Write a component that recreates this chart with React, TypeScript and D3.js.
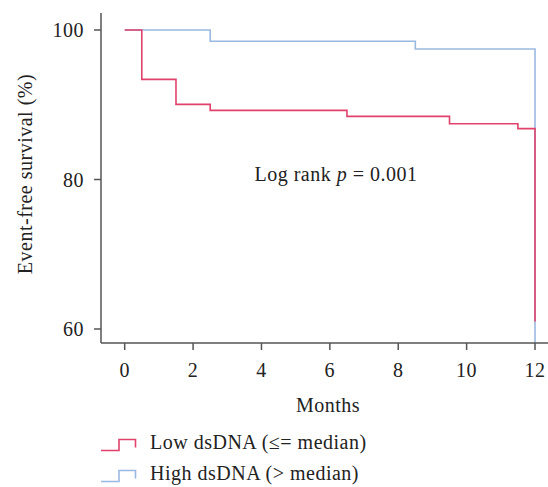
import React from "react";
import * as d3 from "d3";

const lowTimes = [0, 0.5, 1.5, 2.5, 6.5, 9.5, 11.5, 12, 12];
const lowSurv = [100, 93.4, 90.05, 89.25, 88.45, 87.45, 86.8, 61, 61];
const highTimes = [0, 2.5, 8.5, 12, 12];
const highSurv = [100, 98.5, 97.45, 58.1, 58.1];
const xTicks = [0, 2, 4, 6, 8, 10, 12];
const yTicks = [60, 80, 100];
const legendLabels = ["Low dsDNA (\u2264= median)", "High dsDNA (> median)"];
const colors = ["#e0426c", "#9ab9e2"];

const W = 548, H = 487;
const FONT = "'Liberation Serif', 'Times New Roman', serif";
const FS = 20;
const LS = 0.5;

export default function App() {
  const x = d3.scaleLinear().domain([0, 12]).range([124.7, 535]);
  const y = d3.scaleLinear().domain([60, 100]).range([329, 30]);
  const axisLeft = 101, axisBottom = 343, axisTop = 13, axisRight = 548;

  const step = (ts: number[], ss: number[]) =>
    d3.line<number>()
      .x((_, i) => x(ts[i]))
      .y((_, i) => y(ss[i]))
      .curve(d3.curveStepAfter)(ts.map((_, i) => i)) as string;

  const series = [
    { t: lowTimes, s: lowSurv },
    { t: highTimes, s: highSurv },
  ];

  return (
    <svg width={W} height={H} style={{ position: "absolute", left: 0, top: 0 }} fontFamily={FONT} letterSpacing={LS}>
      <rect width={W} height={H} fill="#fff" />
      <path d={step(series[1].t, series[1].s)} fill="none" stroke={colors[1]} strokeWidth={1.6} />
      <path d={step(series[0].t, series[0].s)} fill="none" stroke={colors[0]} strokeWidth={1.6} />
      <line x1={axisLeft} x2={axisLeft} y1={axisTop} y2={axisBottom} stroke="#555" strokeWidth={1.5} />
      <line x1={axisLeft} x2={axisRight} y1={axisBottom} y2={axisBottom} stroke="#555" strokeWidth={1.5} />
      {yTicks.map((v) => (
        <g key={v}>
          <line x1={axisLeft - 7} x2={axisLeft} y1={y(v)} y2={y(v)} stroke="#555" strokeWidth={1.5} />
          <text x={axisLeft - 17} y={y(v)} dy="0.35em" textAnchor="end" fontSize={FS} fill="#222">{v}</text>
        </g>
      ))}
      {xTicks.map((v) => (
        <g key={v}>
          <line x1={x(v)} x2={x(v)} y1={axisBottom} y2={axisBottom + 7} stroke="#555" strokeWidth={1.5} />
          <text x={x(v)} y={377} textAnchor="middle" fontSize={FS} fill="#222">{v}</text>
        </g>
      ))}
      <text x={328} y={412} textAnchor="middle" fontSize={FS} fill="#222">Months</text>
      <text transform={`translate(32,174) rotate(-90)`} textAnchor="middle" fontSize={FS} fill="#222">Event-free survival (%)</text>
      <text x={336} y={181} textAnchor="middle" fontSize={FS} fill="#222">
        Log rank <tspan fontStyle="italic">p</tspan> = 0.001
      </text>
      {legendLabels.map((lab, i) => {
        const top = 439.5 + i * 31;
        const bot = top + 11;
        return (
          <g key={lab}>
            <path d={`M101,${bot}H119V${top}H135.5V${top + 8}`} fill="none" stroke={colors[i]} strokeWidth={1.6} />
            <text x={150} y={bot - 2} fontSize={FS} fill="#222">{lab}</text>
          </g>
        );
      })}
    </svg>
  );
}
